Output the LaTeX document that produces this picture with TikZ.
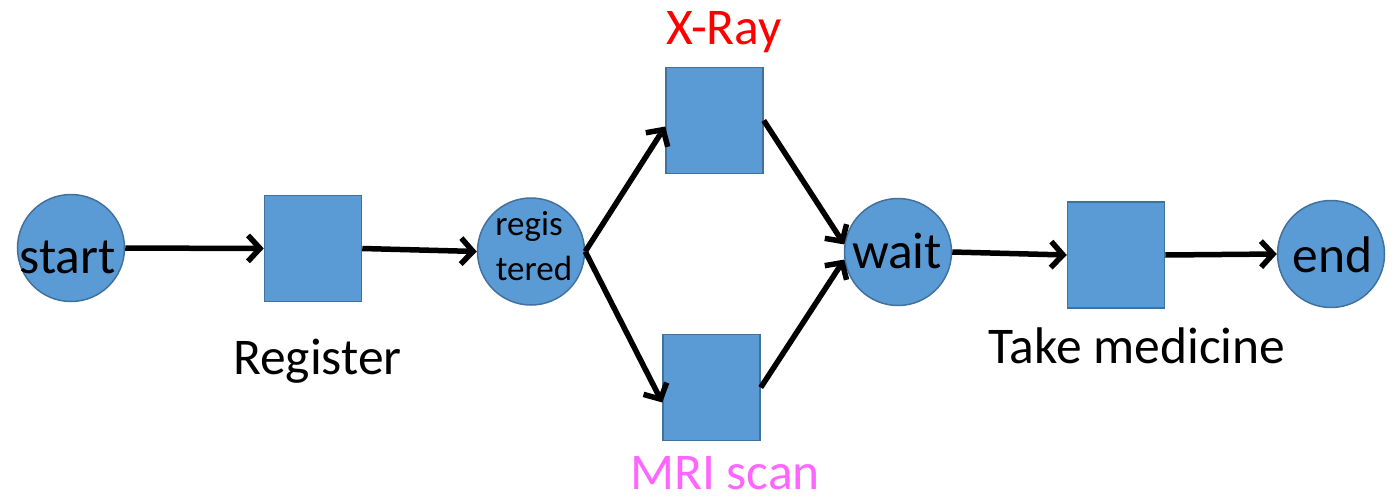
\documentclass[tikz,border=0pt]{standalone}
\usepackage{fontspec}
\setmainfont{Carlito}
\usetikzlibrary{arrows.meta}
\definecolor{boxblue}{HTML}{5B9BD5}
\definecolor{edgeblue}{HTML}{41719C}
\definecolor{mripink}{HTML}{FF66FF}
\begin{document}
\begin{tikzpicture}[x=1pt,y=-1pt,
  place/.style={circle, fill=boxblue, draw=edgeblue, line width=1.5pt, minimum size=107pt, inner sep=0pt},
  trans/.style={rectangle, fill=boxblue, draw=edgeblue, line width=1.5pt, minimum width=97pt, minimum height=106pt, inner sep=0pt},
  big/.style={font=\fontsize{51.5}{60}\selectfont, inner sep=0pt, anchor=base},
  small/.style={font=\fontsize{35}{42}\selectfont, inner sep=0pt, anchor=base},
  flow/.style={line width=5.5pt, -{Straight Barb[length=12pt, width=26pt]}}
]
\useasboundingbox (0,0) rectangle (1394,501);
% places
\node[place] (start) at (71,248) {};
\node[place] (reg) at (531,251.5) {};
\node[place] (wait) at (898,252) {};
\node[place] (end) at (1331,254) {};
% transitions
\node[trans] (register) at (313,248.5) {};
\node[trans] (xray) at (714.5,120.5) {};
\node[trans] (mri) at (711.5,387.5) {};
\node[trans] (take) at (1116,255) {};
% texts in places
\node[big] (startT) at (67.5,273) {start};
\node[small] (regT1) at (529,235) {regis};
\node[small] (regT2) at (534,280) {tered};
\node[big] (waitT) at (897,268) {wait};
\node[big] (endT) at (1332.5,272) {end};
% labels
\node[big] (registerL) at (317.5,374) {Register};
\node[big, text=red] (xrayL) at (724,44) {X-Ray};
\node[big, text=mripink] (mriL) at (725,489) {MRI scan};
\node[big] (takeL) at (1137,363) {Take medicine};
% arcs
\draw[flow] (start) -- (register);
\draw[flow] (register.east) -- (reg.west);
\draw[flow] (reg.east) -- ([yshift=-6pt]xray.west);
\draw[flow] (reg.east) -- ([yshift=-15pt]mri.west);
\draw[flow] (xray.east) -- (wait.172);
\draw[flow] (mri.east) -- (wait.188);
\draw[flow] (wait.east) -- (take.west);
\draw[flow] (take.east) -- (end.west);
\end{tikzpicture}
\end{document}
